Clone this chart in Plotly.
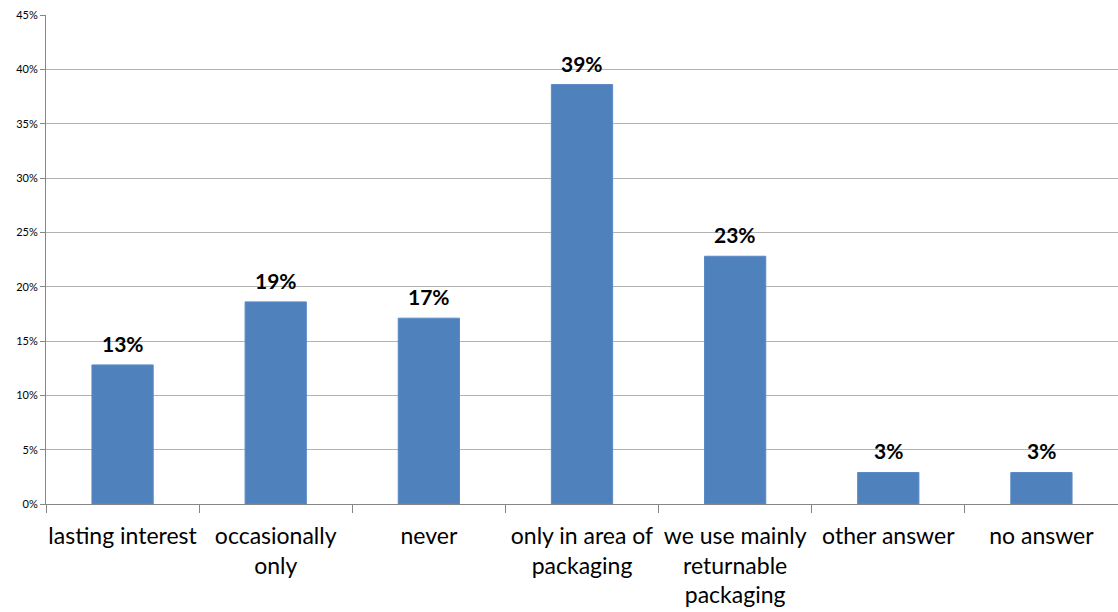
import plotly.graph_objects as go

categories = [
    "lasting interest",
    "occasionally<br>only",
    "never",
    "only in area of<br>packaging",
    "we use mainly<br>returnable<br>packaging",
    "other answer",
    "no answer",
]
shares = [0.128, 0.186, 0.171, 0.386, 0.228, 0.029, 0.029]
y_ticks = [0, 0.05, 0.10, 0.15, 0.20, 0.25, 0.30, 0.35, 0.40, 0.45]

fig = go.Figure(
    go.Bar(
        x=categories,
        y=shares,
        marker=dict(color="#4F81BD", line=dict(color="#5A8AC6", width=1)),
        hoverinfo="x+y",
    )
)

# value labels above each bar
for cat, val in zip(categories, shares):
    fig.add_annotation(
        x=cat,
        y=val,
        text=f"{val:.0%}",
        showarrow=False,
        yanchor="bottom",
        yshift=7,
        font=dict(family="Lato", size=21, color="#000000", weight="bold"),
    )

fig.update_layout(
    width=1118,
    height=612,
    margin=dict(l=46, r=0, t=15, b=108),
    paper_bgcolor="white",
    plot_bgcolor="white",
    bargap=0.6,
    showlegend=False,
    font=dict(family="Lato", color="#000000"),
)

fig.update_xaxes(
    showline=True,
    linecolor="#868686",
    linewidth=1,
    ticks="outside",
    tickson="boundaries",
    ticklen=8,
    tickcolor="#868686",
    tickfont=dict(family="Lato", size=23, color="#000000"),
    tickangle=0,
    ticklabelstandoff=11,
    automargin=False,
    showgrid=False,
)

fig.update_yaxes(
    range=[0, 0.45],
    tickvals=y_ticks,
    tickformat=".0%",
    showline=True,
    linecolor="#868686",
    linewidth=1,
    ticks="outside",
    ticklen=5,
    tickcolor="#868686",
    tickfont=dict(family="Lato", size=11, color="#000000"),
    showgrid=True,
    gridcolor="#B3B3B3",
    gridwidth=1,
    zeroline=False,
    automargin=False,
)

fig.write_html("out.html")
